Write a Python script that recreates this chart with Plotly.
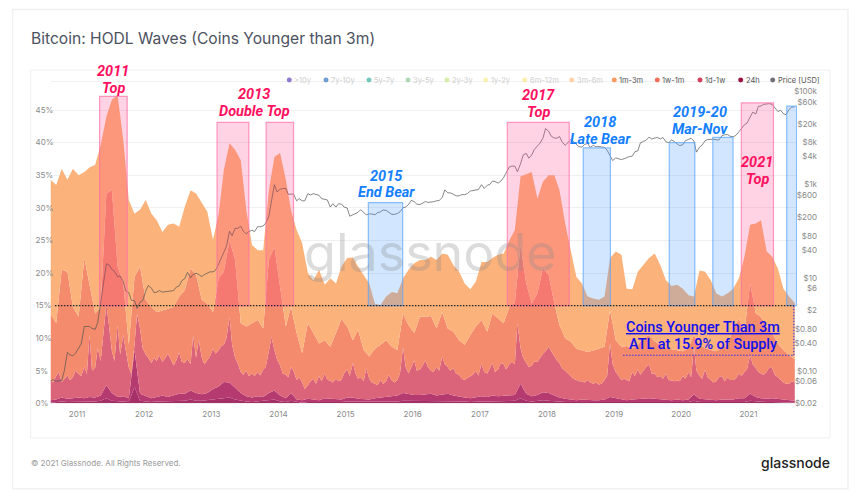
import numpy as np
import pandas as pd
import plotly.graph_objects as go

# the page keeps its default 8px body margin on every side, and the photo of the
# page comes out about 1% squeezed in height, so y positions are stretched to suit
PAGE_MARGIN = 8
Y_STRETCH = 508 / 503
WIDTH, HEIGHT = 860 - PAGE_MARGIN, 503 - 2 * PAGE_MARGIN

# cumulative supply share (%) of coins younger than each age
younger_6m = [
    34.3, 33.5, 36, 34.3, 36,
    35, 35.5, 36.2, 36.6, 39.6, 44, 46.6, 47.3, 40.4, 31.2, 29.1, 29.7,
    31.2, 29.1, 28.1, 26.3, 27.4, 27.6, 27.1, 30.2, 32.7, 32.2, 30.7, 29.4,
    25.1, 29.1, 35.8, 39.9, 38.9, 37.3, 29.7, 24.3, 23.5, 23.5, 32.7, 37.8,
    38.4, 34.3, 29.7, 26.6, 24.6, 20, 18.9, 20.5, 18.2, 19.2, 18.4, 21,
    22.3, 22.4, 21, 19.7, 18.4, 15.3, 15.1, 16.4, 17.1, 16.9, 19.2, 20.5,
    21.5, 22, 22, 22.5, 22, 23, 22.8, 21.2, 20.2, 18.4, 17.5, 18.7,
    21.7, 21.7, 22.3, 22.8, 23, 25, 26.6, 34.8, 35.2, 35.5, 31.4, 34,
    35, 35, 32.7, 27.6, 23.5, 19.4, 18.4, 16.4, 16.1, 15.9, 16.4, 22.3,
    23.3, 22.8, 17.6, 17.5, 20.2, 21.2, 22.3, 23, 21.2, 18.9, 18, 18.2,
    17.6, 16.6, 16.4, 20.4, 20.2, 18.9, 16.9, 16.4, 16.9, 17.6, 19.2, 22.5,
    27.4, 27.6, 28.1, 23.3, 22.5, 20.7, 17.6, 16.4, 15.4,
]
younger_3m = [
    13.8, 12.3, 20.5, 20.2, 14.8,
    13.3, 22.3, 18.4, 13.8, 14.8, 32.2, 32.7, 21, 18.4, 9, 19.4, 21,
    15.9, 14.8, 14, 14.3, 14.6, 14.8, 16.4, 17.4, 20.7, 19.7, 15.9, 15.3,
    14, 19.2, 20.2, 25, 22, 12.3, 11.8, 12.3, 12.8, 11.5, 22, 24,
    17.9, 11.8, 14.8, 10.8, 7.7, 12.3, 10.8, 9.2, 9.7, 8.7, 10.8, 13,
    11.8, 9.7, 11.3, 8.2, 7.2, 8.4, 9, 9.7, 8.7, 8.2, 13.8, 12,
    10.8, 13.3, 13.3, 13.4, 11.5, 14, 11.5, 11, 9.7, 9, 10.5, 11.8,
    12.8, 11, 13.8, 13, 12.3, 14.8, 15.4, 24.3, 18.4, 15.3, 16.9, 20.7,
    19.7, 15.3, 12, 10, 9.5, 8.4, 8.2, 7.9, 8.1, 8.4, 8.7, 14.3,
    9.7, 8.7, 8.8, 8.5, 9, 10, 10.5, 9.5, 9, 8.5, 8.3, 8.2,
    8, 8.5, 10.5, 9, 8.5, 8.2, 8, 8.5, 9, 11.5, 13, 11,
    18.4, 13.8, 13.3, 11.8, 10.8, 9.2, 8.2, 7.4, 6.8,
]
# twice a month, this band is spiky
younger_1m = [
    3.5, 3.2, 4.2, 4.8, 3.3, 3.8, 4.3, 3.6, 4.0, 5.0,
    4.6, 4.2, 5.6, 4.5, 10.5, 5.0, 5.5, 8.5, 6.5, 10.0, 15.2, 12, 8.0, 6.5, 12.0, 7.5, 10.5, 8.0, 5.5, 4.5, 9.0, 13.8, 11.5, 8.5,
    7.5, 7.0, 6.2, 7.0, 6.5, 7.4, 6.4, 6.9, 7.6, 6.8, 5.8, 6.6, 7.8, 6.4, 6.2, 6.8, 6.0, 10.4, 7.0, 9.8, 7.0, 6.0, 6.6, 7.2,
    8.4, 7.6, 8.2, 8.8, 9.0, 10.0, 13.2, 9.0, 7.0, 6.2, 4.8, 4.4, 5.0, 4.2, 4.6, 4.2, 4.8, 4.3, 5.2, 5.6, 8.0, 10.2, 8.2, 6.8,
    5.8, 4.6, 4.4, 4.0, 5.6, 5.0, 3.6, 4.0, 3.2, 2.2, 2.8, 3.4, 3.8, 3.0, 4.2, 3.4, 4.6, 3.6, 3.5, 3.2, 3.8, 3.4, 3.6, 4.6,
    5.2, 4.2, 6.2, 4.6, 3.8, 4.0, 3.4, 5.4, 3.8, 3.2, 3.0, 2.8, 3.6, 3.0, 3.4, 4.4, 3.5, 3.2, 3.6, 4.6, 8.6, 5.6, 4.6, 5.6,
    6.6, 5.0, 5.2, 5.8, 6.6, 5.6, 5.0, 4.8, 5.6, 5.0, 7.2, 6.0, 5.6, 5.0, 5.4, 4.6, 4.4, 3.8, 3.6, 3.9, 4.2, 4.4, 5.0, 4.3,
    6.1, 4.8, 4.6, 5.4, 6.2, 4.8, 5.2, 6.2, 6.0, 5.2, 6.0, 6.4, 6.0, 12.3, 8.5, 7.0, 6.2, 5.6, 5.8, 6.4, 6.4, 7.0, 7.6, 8.0,
    8.7, 8.0, 7.2, 6.6, 6.2, 5.4, 5.0, 4.6, 4.2, 3.8, 3.6, 3.4, 3.4, 3.2, 3.6, 3.2, 3.0, 3.2, 2.9, 3.0, 3.6, 4.2, 9.2, 6.0,
    4.8, 4.2, 3.6, 3.8, 3.6, 3.4, 4.8, 4.2, 5.2, 4.4, 5.0, 5.6, 6.0, 4.6, 4.6, 4.0, 4.2, 3.8, 4.6, 3.6, 3.5, 3.4, 3.5, 3.4,
    4.2, 3.8, 4.8, 4.0, 8.7, 5.0, 4.2, 3.8, 5.2, 4.0, 3.6, 3.2, 3.4, 4.0, 4.2, 3.4, 4.0, 3.6, 3.6, 3.8, 4.6, 4.2, 4.8, 5.2,
    7.4, 6.0, 5.4, 4.8, 4.6, 4.4, 4.8, 5.6, 5.4, 4.4, 4.0, 3.6, 3.2, 3.0, 3.0, 3.4, 3.2,
]
younger_1w = [
    .5, .6, .9, .7, .8,
    .9, .8, 1, .9, 1.2, 2.8, 1.6, 1, 1.1, .8, 8.2, 1.5,
    1.1, .8, 1, 1.2, 1, 1.3, 1.5, 1.5, 2, 1.6, 1.4, 1.6,
    2.2, 2.6, 3.3, 3.2, 2.4, 1.6, 1.1, .9, 1.1, 1, 1.6, 2,
    1.2, .8, 1.6, .6, .5, .7, .6, .5, .8, .7, .6, .6,
    .9, .9, .7, .7, .6, .8, .9, 1, 1.1, 1.2, 1.6, 1.4,
    1.3, 1.3, 1.4, 1.5, 1.2, 1.4, 1.5, 1.2, 1, .9, .8, 1,
    1.1, 1, 1.2, 1.1, 1.2, 1.2, 1.3, 3, 1.5, 1.1, 1.3, 1.7,
    1.6, 1.2, .9, .7, .6, .5, .6, .5, .5, .5, .6, 1,
    .8, .6, .5, .6, .7, .8, .8, .7, .6, .5, .5, .6,
    .5, .6, 1.4, .7, .6, .5, .5, .6, .6, .6, .8, .8,
    1.5, 1, .8, .7, .8, .7, .5, .4, .4,
]
younger_1d = [
    .1, .2, .3, .2, .2,
    .3, .2, .3, .3, .4, .8, .4, .3, .3, .2, 2.5, .4,
    .3, .2, .3, .3, .3, .4, .4, .4, .6, .4, .4, .5,
    .6, .7, .9, .9, .6, .4, .3, .2, .3, .3, .5, .6,
    .3, .2, .4, .2, .1, .2, .2, .1, .2, .2, .2, .2,
    .3, .3, .2, .2, .2, .2, .3, .3, .3, .3, .4, .4,
    .4, .4, .4, .4, .3, .4, .4, .3, .3, .3, .2, .3,
    .3, .3, .3, .3, .3, .3, .4, .8, .4, .3, .4, .5,
    .4, .3, .3, .2, .2, .2, .2, .2, .2, .2, .2, .3,
    .2, .2, .2, .2, .2, .2, .2, .2, .2, .2, .2, .2,
    .2, .2, .4, .2, .2, .2, .2, .2, .2, .2, .2, .2,
    .4, .3, .2, .2, .2, .2, .2, .1, .1,
]
# twice a month
price_usd = [
    .06, .065, .06, .06, .062, .1, .25, .22, .21, .24,
    .3, .38, .9, .9, .9, .82, .78, 1.1, 3.2, 7.2, 20, 19, 15, 13.8, 10.5, 11, 8.2, 5.2, 4.8, 3.3, 3.2, 2.2, 3, 3.2,
    5.2, 6.8, 6, 4.8, 4.9, 5.3, 4.9, 5, 5.1, 5.1, 5.3, 6.3, 6.7, 8.6, 9.6, 13, 10, 11.8, 12.5, 11.8, 10.6, 11.7, 12.6, 13.4,
    13.4, 14.5, 20, 27, 34, 47, 100, 80, 115, 115, 128, 100, 88, 98, 105, 98, 125, 125, 130, 150, 210, 420, 1000, 700,
    800, 820, 830, 620, 620, 630, 450, 500, 450, 450, 640, 600, 640, 620, 590, 500, 480, 470, 330, 390, 330, 390, 380, 330,
    315, 210, 225, 235, 255, 290, 245, 225, 235, 235, 225, 250, 260, 285, 280, 260, 230, 230, 240, 260, 320, 330, 375, 460,
    430, 380, 375, 400, 435, 415, 415, 430, 450, 455, 530, 770, 670, 665, 620, 575, 575, 610, 610, 640, 730, 745, 750, 785,
    1000, 830, 970, 1010, 1190, 1170, 1080, 1180, 1420, 1800, 2400, 2500, 2500, 1900, 2800, 4300, 4700, 3700, 4350, 5700, 6700, 7800, 10000, 16000,
    14000, 11000, 10000, 10000, 10800, 8300, 7000, 8000, 9200, 8500, 7500, 6500, 6400, 7300, 7700, 6300, 7000, 6500, 6600, 6500, 6300, 5500, 4000, 3300,
    3750, 3600, 3450, 3600, 3800, 4000, 4100, 5100, 5300, 7900, 8500, 9000, 10500, 9600, 10000, 10300, 9600, 10300, 8300, 8000, 9100, 8500, 7500, 6900,
    7200, 8800, 9400, 9900, 8600, 5000, 6400, 7100, 8800, 9300, 9400, 9500, 9200, 9100, 11300, 11800, 11900, 10900, 10700, 11400, 13700, 16000, 19400, 21000,
    29000, 36000, 33000, 48000, 49000, 53000, 54000, 55000, 53000, 46000, 37000, 40000, 33500, 31800, 41500, 46000, 47000,
]

pct_ticks = [0, 5, 10, 15, 20, 25, 30, 35, 40, 45]
price_ticks = [0.02, 0.06, 0.1, 0.4, 0.8, 2, 6, 10, 40, 80, 200, 600, 1000, 4000, 8000, 20000, 60000, 100000]
price_labels = ["$0.02", "$0.06", "$0.10", "$0.40", "$0.80", "$2", "$6", "$10", "$40", "$80",
                "$200", "$600", "$1k", "$4k", "$8k", "$20k", "$60k", "$100k"]
year_ticks = ["%d-01-01" % y for y in range(2011, 2022)]

# highlighted periods: start, end, top of the box in %
pink_starts = ["2011-05-04", "2013-02-01", "2013-10-26", "2017-05-30", "2020-11-23"]
pink_ends = ["2011-10-01", "2013-07-24", "2014-03-24", "2018-05-02", "2021-05-17"]
pink_tops = [47.1, 43.1, 43.1, 43.1, 46.1]
blue_starts = ["2015-05-05", "2018-07-17", "2019-10-28", "2020-06-21", "2021-07-28"]
blue_ends = ["2015-11-08", "2018-12-12", "2020-03-15", "2020-10-09", "2021-09-20"]
blue_tops = [30.8, 39.2, 40.0, 40.8, 45.6]

legend_names = [">10y", "7y-10y", "5y-7y", "3y-5y", "2y-3y", "1y-2y", "6m-12m", "3m-6m",
                "1m-3m", "1w-1m", "1d-1w", "24h", "Price [USD]"]
legend_colors = ["#6a4fc0", "#3d7fc0", "#45b5a8", "#90d0a0", "#cce88c", "#f5ee9a", "#fdeb90", "#fdc48a",
                 "#fb9a60", "#f4705a", "#d5405a", "#99163f", "#71717a"]
legend_x = [289.3, 326, 369, 408, 447, 485.7, 524.7, 571.7, 614.3, 657.3, 700, 740.7, 772.7]

months = pd.date_range("2010-08-01", periods=134, freq="MS") + pd.Timedelta(days=9)
half_months = pd.date_range("2010-08-01", periods=267, freq="SMS") + pd.Timedelta(days=9)


def px(x):
    return (x - PAGE_MARGIN) / WIDTH


def py(y):
    return 1 - (y * Y_STRETCH - PAGE_MARGIN) / HEIGHT


fig = go.Figure()

# stacked bands, bottom one first
bands = [
    (months, younger_1d, "24h", "#a53068", "tozeroy"),
    (months, younger_1w, "1d-1w", "#b53a70", "tonexty"),
    (half_months, younger_1m, "1w-1m", "#db647a", "tonexty"),
    (months, younger_3m, "1m-3m", "#f38b6c", "tonexty"),
    (months, younger_6m, "3m-6m", "#fbb27b", "tonexty"),
]
for dates, values, name, color, fill in bands:
    fig.add_trace(go.Scatter(
        x=dates, y=values, name=name, mode="lines", fill=fill,
        fillcolor=color, line=dict(width=0, color=color), hoverinfo="skip",
    ))

fig.add_trace(go.Scatter(
    x=half_months, y=price_usd, name="Price [USD]", yaxis="y2", mode="lines",
    line=dict(color="#555555", width=0.7),
))

shapes = [
    # page card and chart frame
    dict(type="rect", xref="paper", yref="paper", layer="below", x0=px(12.7), x1=px(848), y0=py(489), y1=py(9.5),
         fillcolor="white", line=dict(color="#f1f1f1", width=1.5)),
    dict(type="rect", xref="paper", yref="paper", layer="below", x0=px(30.7), x1=px(830), y0=py(438), y1=py(70),
         fillcolor="white", line=dict(color="#f0f0f0", width=1)),
]
for x0, x1, top in zip(pink_starts, pink_ends, pink_tops):
    shapes.append(dict(type="rect", xref="x", yref="y", x0=x0, x1=x1, y0=15, y1=top,
                       fillcolor="rgba(255,60,130,0.225)", line=dict(color="rgba(255,110,165,0.7)", width=1.2)))
for x0, x1, top in zip(blue_starts, blue_ends, blue_tops):
    shapes.append(dict(type="rect", xref="x", yref="y", x0=x0, x1=x1, y0=15, y1=top,
                       fillcolor="rgba(60,150,255,0.23)", line=dict(color="rgba(90,165,250,0.7)", width=1.2)))

# dotted 15% line and the box around the ATL note
shapes.append(dict(type="line", xref="x", yref="y", x0="2010-09-03", x1="2021-09-05", y0=15, y1=15,
                   line=dict(color="#222222", width=1.2, dash="1.5px,1.5px")))
shapes.append(dict(type="line", xref="x", yref="y", x0="2019-02-19", x1="2021-09-05", y0=7.4, y1=7.4,
                   line=dict(color="#3a30e8", width=1.1, dash="1.5px,1.5px")))
shapes.append(dict(type="line", xref="x", yref="y", x0="2021-09-05", x1="2021-09-05", y0=7.4, y1=15,
                   line=dict(color="#3a30e8", width=1.1, dash="1.5px,1.5px")))

annotations = []


def add_text(x, y, text, size, color, anchor="center", family="Roboto", weight=None):
    # annotations sit about 2px inside their anchor because of the box padding
    nudge = {"left": -2, "right": 2, "center": 0}[anchor]
    annotations.append(dict(
        xref="paper", yref="paper", x=px(x + nudge), y=py(y), text=text, showarrow=False,
        xanchor=anchor, yanchor="middle",
        font=dict(size=size, color=color, family=family, weight=weight),
    ))


PINK = "#ff1060"
BLUE = "#1580ff"
NOTE = "#1010f0"
add_text(430, 253, "glassnode", 52, "rgba(140,140,140,0.3)", family="Inter")
add_text(30.7, 38, "Bitcoin: HODL Waves (Coins Younger than 3m)", 15.6, "#4c5260", "left", "Inter")
add_text(30.7, 463, "© 2021 Glassnode. All Rights Reserved.", 8, "#9a9a9a", "left", "Inter")
add_text(830, 463, "glassnode", 14, "#222222", "right", "Inter", 500)

for x, y, label, color in [
    (113, 71, "2011", PINK), (113, 88, "Top", PINK),
    (254, 94, "2013", PINK), (254, 111, "Double Top", PINK),
    (386, 176, "2015", BLUE), (386, 193, "End Bear", BLUE),
    (538.7, 95.7, "2017", PINK), (538.7, 112.7, "Top", PINK),
    (600, 122, "2018", BLUE), (600, 139, "Late Bear", BLUE),
    (700, 112, "2019-20", BLUE), (700, 129, "Mar-Nov", BLUE),
    (757, 162.7, "2021", PINK), (757, 179, "Top", PINK),
]:
    add_text(x, y, "<b><i>%s</i></b>" % label, 14.5, color)

add_text(702.7, 328, "<u>Coins Younger Than 3m</u>", 14.4, NOTE, weight=500)
add_text(702.7, 345, "ATL at 15.9% of Supply", 14.4, NOTE, weight=500)

for i, (name, color, x) in enumerate(zip(legend_names, legend_colors, legend_x)):
    active = i >= 8
    shapes.append(dict(type="circle", xref="paper", yref="paper", x0=px(x - 2.5), x1=px(x + 2.5),
                       y0=py(82.5), y1=py(77.5), fillcolor=color, line=dict(width=0),
                       opacity=1 if active else 0.75))
    add_text(x + 5, 80, name, 7.5, "#555555" if active else "#cfcfcf", "left", "Inter")

fig.update_layout(
    width=WIDTH, height=HEIGHT,
    margin=dict(l=0, r=0, t=0, b=0),
    paper_bgcolor="white", plot_bgcolor="rgba(0,0,0,0)",
    showlegend=False,
    font=dict(family="Inter", size=8, color="#8a8a8a"),
    shapes=shapes, annotations=annotations,
    xaxis=dict(
        domain=[px(50.5), px(797)], type="date",
        range=["2010-08-10", "2021-09-22"],
        tickvals=year_ticks, tickformat="%Y", ticks="", ticklabelstandoff=3,
        showgrid=False, zeroline=False, showline=True, mirror=True, linecolor="#f0f0f0",
    ),
    yaxis=dict(
        domain=[py(403.5), py(82)], range=[0, 49.3],
        tickvals=pct_ticks, ticktext=["%d%%" % v for v in pct_ticks],
        side="right", anchor="free", position=px(34.5),
        showgrid=True, gridcolor="#f0f0f0", zeroline=False, showline=False, ticks="",
    ),
    yaxis2=dict(
        type="log", overlaying="y", range=[np.log10(0.02), 5.204],
        tickvals=price_ticks, ticktext=price_labels,
        side="left", anchor="free", position=px(817),
        showgrid=False, zeroline=False, showline=False, ticks="",
    ),
)

fig.write_html("out.html")
